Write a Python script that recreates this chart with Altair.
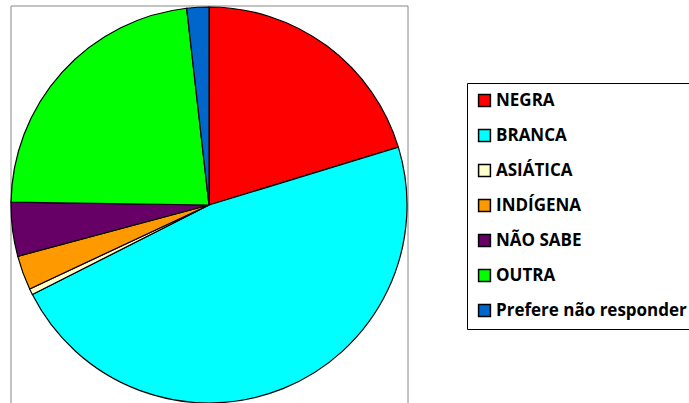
import altair as alt
import pandas as pd

categories = ["NEGRA", "BRANCA", "ASIÁTICA", "INDÍGENA", "NÃO SABE", "OUTRA", "Prefere não responder"]
values = [20.3, 47.3, 0.5, 2.8, 4.4, 23.0, 1.8]
colors = ["#FF0000", "#00FFFF", "#FFFFCC", "#FF9900", "#660066", "#00FF00", "#0066CC"]

df = pd.DataFrame({"cat": categories, "val": values, "ord": list(range(len(categories)))})

pie = alt.Chart(df).mark_arc(outerRadius=198, stroke="black", strokeWidth=1.2).encode(
    theta=alt.Theta("val:Q", stack=True),
    order=alt.Order("ord:Q"),
    x=alt.value(198),
    y=alt.value(199),
    color=alt.Color(
        "cat:N",
        scale=alt.Scale(domain=categories, range=colors),
        sort=categories,
        legend=alt.Legend(
            title=None,
            orient="none",
            legendX=456,
            legendY=77,
            symbolType="square",
            symbolSize=140,
            symbolStrokeColor="black",
            symbolStrokeWidth=1.5,
            symbolOpacity=1,
            labelFont="Open Sans",
            labelFontSize=17,
            labelFontWeight="bold",
            labelColor="black",
            labelLimit=400,
            labelOffset=3,
            rowPadding=16,
            padding=9,
            strokeColor="black",
            fillColor="white",
        ),
    ),
)

frame_df = pd.DataFrame({"a": [0]})
left = alt.Chart(frame_df).mark_rule(color="#888888", strokeWidth=1).encode(
    x=alt.value(0), y=alt.value(0), y2=alt.value(400))
right = alt.Chart(frame_df).mark_rule(color="#888888", strokeWidth=1).encode(
    x=alt.value(397), y=alt.value(0), y2=alt.value(400))
top = alt.Chart(frame_df).mark_rule(color="#888888", strokeWidth=1).encode(
    x=alt.value(0), x2=alt.value(397), y=alt.value(0))

chart = alt.layer(left, right, top, pie).properties(
    width=397, height=397,
    padding={"left": 11, "top": 6, "right": 281, "bottom": 0},
    autosize=alt.AutoSizeParams(type="none"),
).configure_view(stroke=None)

chart.save("out.html", embed_options={"renderer": "svg", "actions": False})
